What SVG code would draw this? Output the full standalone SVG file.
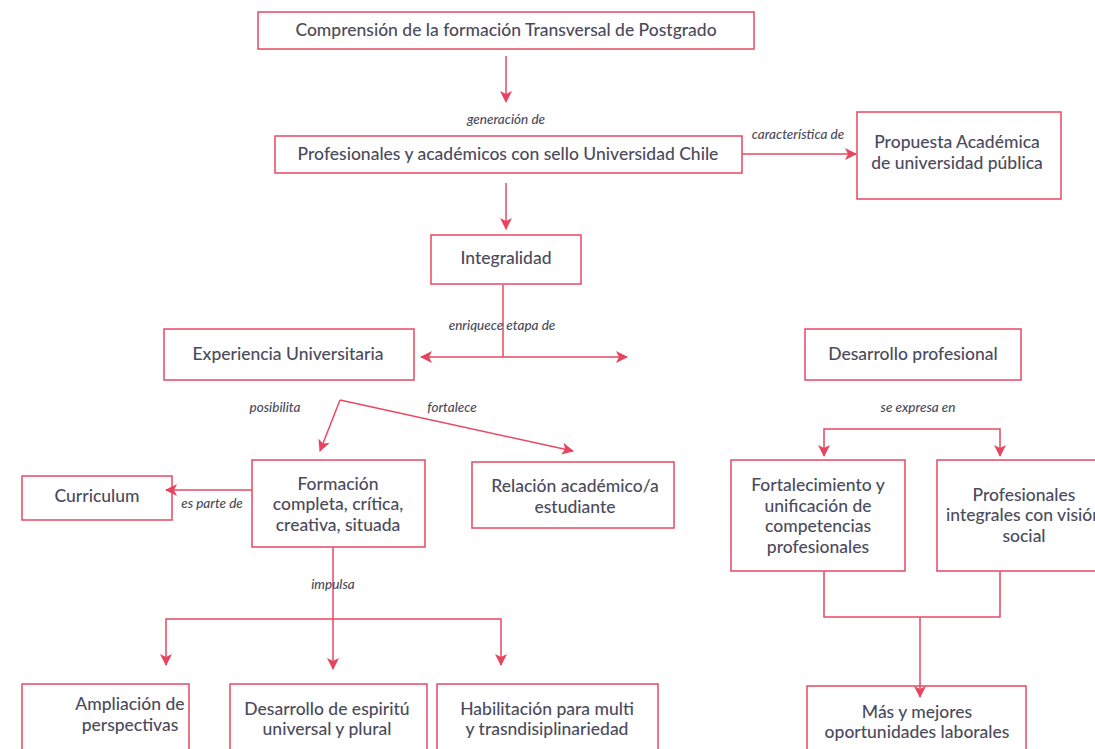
<svg xmlns="http://www.w3.org/2000/svg" width="1095" height="749" viewBox="0 0 1095 749">
<style>
.box{fill:#fff;stroke:#e84862;stroke-width:1.5}
.t{font-family:Lato,"Noto Sans",sans-serif;font-size:17.5px;font-weight:500;fill:#4b4b5c;text-anchor:middle}
.l{font-family:Lato,"Noto Sans",sans-serif;font-size:13.5px;font-style:italic;font-weight:500;fill:#4b4b5c;text-anchor:middle}
.c{fill:none;stroke:#e84862;stroke-width:1.5}
</style>
<defs>
<marker id="a" viewBox="0 0 12 12" refX="11" refY="6" markerWidth="12" markerHeight="12" markerUnits="userSpaceOnUse" orient="auto-start-reverse">
<path d="M0,0 L12,6 L0,12 L3,6 z" fill="#e8435f"/>
</marker>
</defs>
<rect width="1095" height="749" fill="#fff"/>
<g id="n1"><rect class="box" x="258" y="12" width="496" height="37"/><text class="t" x="506" y="36">Comprensión de la formación Transversal de Postgrado</text></g>
<g id="n2"><rect class="box" x="275" y="136" width="467" height="37"/><text class="t" x="508" y="160">Profesionales y académicos con sello Universidad Chile</text></g>
<g id="n3"><rect class="box" x="857" y="112" width="204" height="87"/><text class="t" x="957" y="148">Propuesta  Académica</text><text class="t" x="957" y="169">de universidad pública</text></g>
<g id="n4"><rect class="box" x="431" y="235" width="150" height="49"/><text class="t" x="506" y="264">Integralidad</text></g>
<g id="n5"><rect class="box" x="164" y="329" width="250" height="51"/><text class="t" x="288" y="360">Experiencia  Universitaria</text></g>
<g id="n6"><rect class="box" x="805" y="329" width="216" height="51"/><text class="t" x="913" y="360">Desarrollo  profesional</text></g>
<g id="n7"><rect class="box" x="252" y="460" width="173" height="87"/><text class="t" x="338" y="490">Formación</text><text class="t" x="338" y="510">completa, crítica,</text><text class="t" x="338" y="531">creativa, situada</text></g>
<g id="n8"><rect class="box" x="22" y="476" width="150" height="44"/><text class="t" x="97" y="502">Curriculum</text></g>
<g id="n9"><rect class="box" x="472" y="462" width="202" height="66"/><text class="t" x="575" y="492">Relación académico/a</text><text class="t" x="575" y="513">estudiante</text></g>
<g id="n10"><rect class="box" x="731" y="460" width="174" height="111"/><text class="t" x="818" y="491">Fortalecimiento y</text><text class="t" x="818" y="512">unificación de</text><text class="t" x="818" y="532">competencias</text><text class="t" x="818" y="553">profesionales</text></g>
<g id="n11"><rect class="box" x="937" y="460" width="170" height="111"/><text class="t" x="1024" y="501">Profesionales</text><text class="t" x="1024" y="521">integrales con visión</text><text class="t" x="1024" y="542">social</text></g>
<g id="n12"><rect class="box" x="22" y="684" width="167" height="80"/><text class="t" x="130" y="710">Ampliación de</text><text class="t" x="130" y="731">perspectivas</text></g>
<g id="n13"><rect class="box" x="230" y="684" width="197" height="80"/><text class="t" x="327" y="715">Desarrollo de espiritú</text><text class="t" x="327" y="735">universal y plural</text></g>
<g id="n14"><rect class="box" x="437" y="684" width="221" height="80"/><text class="t" x="547" y="715">Habilitación para multi</text><text class="t" x="547" y="735">y trasndisiplinariedad</text></g>
<g id="n15"><rect class="box" x="807" y="686" width="219" height="80"/><text class="t" x="917" y="718">Más y mejores</text><text class="t" x="917" y="738">oportunidades laborales</text></g>
<g id="connectors">
<path class="c" d="M506,56 V102" marker-end="url(#a)"/>
<path class="c" d="M742,154 H856" marker-end="url(#a)"/>
<path class="c" d="M506,183 V229" marker-end="url(#a)"/>
<path class="c" d="M503,285 V357"/>
<path class="c" d="M421,357 H627" marker-start="url(#a)" marker-end="url(#a)"/>
<path class="c" d="M340,400 L320,451" marker-end="url(#a)"/>
<path class="c" d="M340,400 L573,451" marker-end="url(#a)"/>
<path class="c" d="M252,490 H166" marker-end="url(#a)"/>
<path class="c" d="M333,547 V669" marker-end="url(#a)"/>
<path class="c" d="M166,665 V619 H501 V665" marker-start="url(#a)" marker-end="url(#a)"/>
<path class="c" d="M824,456 V429 H1000 V456" marker-start="url(#a)" marker-end="url(#a)"/>
<path class="c" d="M824,571 V617 H1000 V571"/>
<path class="c" d="M920,617 V697" marker-end="url(#a)"/>
<text class="l" x="506" y="124">generación de</text>
<text class="l" x="798" y="139">característica de</text>
<text class="l" x="502" y="330">enriquece etapa de</text>
<text class="l" x="275" y="412">posibilita</text>
<text class="l" x="452" y="412">fortalece</text>
<text class="l" x="212" y="508">es parte de</text>
<text class="l" x="333" y="589">impulsa</text>
<text class="l" x="918" y="412">se expresa en</text>
</g>
</svg>
